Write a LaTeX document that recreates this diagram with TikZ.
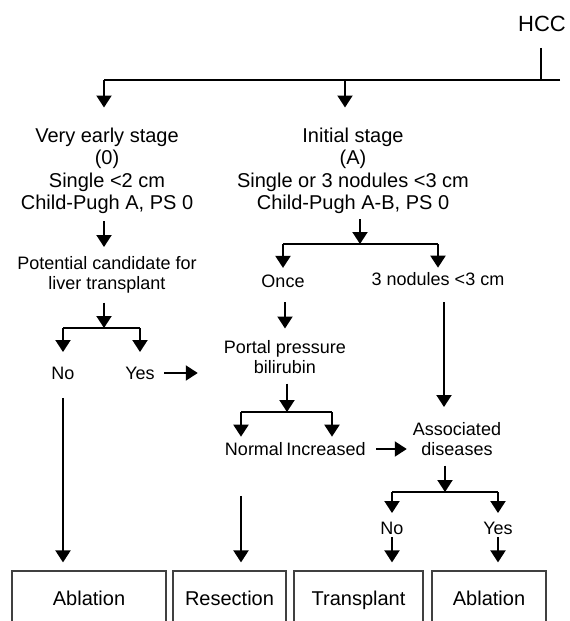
\documentclass[tikz,border=0pt]{standalone}
\usepackage{fontspec}
\setmainfont{Liberation Sans}
\usepackage{tikz}
\usetikzlibrary{arrows.meta}

\begin{document}
\begin{tikzpicture}[x=1pt,y=-1pt,
  ln/.style={line width=2pt},
  arr/.style={line width=2pt,-{Triangle[length=12pt,width=15pt]}},
  big/.style={inner sep=0pt,align=center,font=\fontsize{20}{22.5}\selectfont},
  sml/.style={inner sep=0pt,align=center,font=\fontsize{18}{20}\selectfont},
  box/.style={draw=black!75,line width=1.2pt,minimum height=54pt,inner sep=0pt,text height=14pt,text depth=0pt,font=\fontsize{20}{24}\selectfont}]

\useasboundingbox (0,0) rectangle (570,621);

\node [inner sep=0pt,font=\fontsize{22}{24}\selectfont] (hcc) at (542,24) {HCC};

\node [big,anchor=north] (s0) at (107,127.5) {Very early stage\\(0)\\Single <2 cm\\Child-Pugh A, PS 0};
\node [big,anchor=north] (sA) at (353,127.5) {Initial stage\\(A)\\Single or 3 nodules <3 cm\\Child-Pugh A-B, PS 0};

\node [sml,anchor=north] (cand) at (107,256.5) {Potential candidate for\\liver transplant};
\node [sml] (once) at (283,281) {Once};\node [sml] (nod3) at (438,279) {3 nodules <3 cm};
\node [sml] (no1) at (63,373) {No};\node [sml] (yes1) at (140,373) {Yes};
\node [sml,anchor=north] (portal) at (285,340.5) {Portal pressure\\bilirubin};
\node [sml] (normal) at (254,449) {Normal};\node [sml] (incr) at (326,449) {Increased};
\node [sml,anchor=north] (assoc) at (457,422.5) {Associated\\diseases};
\node [sml] (no2) at (392,528) {No};\node [sml] (yes2) at (498,528) {Yes};

\node [box,minimum width=154pt] (abl1) at (89,598) {Ablation};
\node [box,minimum width=113pt] (resec) at (229.5,598) {Resection};
\node [box,minimum width=129pt] (trans) at (358.5,598) {Transplant};
\node [box,minimum width=114pt] (abl2) at (489,598) {Ablation};

%top
\coordinate (jH) at (541,80);\coordinate (j0) at (104,80);\coordinate (jA) at (345,80);\coordinate (jR) at (560,80);
\draw [ln,shorten <=16pt] (hcc.south -| jH) -- (jH);\draw [ln] (jR) -- (j0);
\draw [arr,shorten >=20pt] (j0) -- (j0 |- s0.north);\draw [arr,shorten >=20pt] (jA) -- (jA |- sA.north);

%left
\coordinate (c1) at (104,328);
\draw [arr,shorten <=7pt,shorten >=9.5pt] (s0.south -| j0) -- (cand.north -| j0);
\draw [arr,shorten <=9pt] (cand.south -| c1) -- (c1);
\draw [ln] (no1 |- c1) -- (yes1 |- c1);
\draw [arr,shorten >=14.5pt] (no1 |- c1) -- (no1);\draw [arr,shorten >=14.5pt] (yes1 |- c1) -- (yes1);
\draw [arr,shorten <=9.5pt,shorten >=26pt] (yes1) -- (portal.west |- yes1);
\draw [arr,shorten <=18.5pt,shorten >=8pt] (no1) -- (no1 |- abl1.north);

%middle
\coordinate (c2) at (360,244);\coordinate (c3) at (287,412);\coordinate (c3l) at (241,412);\coordinate (c3r) at (332,412);
\draw [arr,shorten <=5pt] (sA.south -| c2) -- (c2);
\draw [ln] (once |- c2) -- (nod3 |- c2);
\draw [arr,shorten >=6.5pt] (once |- c2) -- (once);\draw [arr,shorten >=4.5pt] (nod3 |- c2) -- (nod3);
\draw [arr,shorten <=14.5pt,shorten >=12pt] (once.south -| portal) -- (portal.north);
\draw [arr,shorten <=9.5pt] (portal.south -| c3) -- (c3);
\draw [ln] (c3l) -- (c3r);
\draw [arr,shorten >=5.5pt] (c3l) -- (c3l |- normal.north);\draw [arr,shorten >=5.5pt] (c3r) -- (c3r |- incr.north);
\draw [arr,shorten <=10.5pt,shorten >=6pt] (incr) -- (assoc.west |- incr);
\draw [arr,shorten <=40pt,shorten >=8pt] (normal.south -| c3l) -- (c3l |- resec.north);

%right
\coordinate (c4) at (444,300);\coordinate (c5) at (445,492);
\draw [arr,shorten <=16.5pt,shorten >=15.5pt] (nod3.south -| c4) -- (assoc.north -| c4);
\draw [arr,shorten <=9.5pt] (assoc.south -| c5) -- (c5);
\draw [ln] (no2 |- c5) -- (yes2 |- c5);
\draw [arr,shorten >=8.5pt] (no2 |- c5) -- (no2);\draw [arr,shorten >=8.5pt] (yes2 |- c5) -- (yes2);
\draw [arr,shorten <=2.5pt,shorten >=8pt] (no2) -- (no2 |- trans.north);
\draw [arr,shorten <=2.5pt,shorten >=8pt] (yes2) -- (yes2 |- abl2.north);

\end{tikzpicture}
\end{document}
